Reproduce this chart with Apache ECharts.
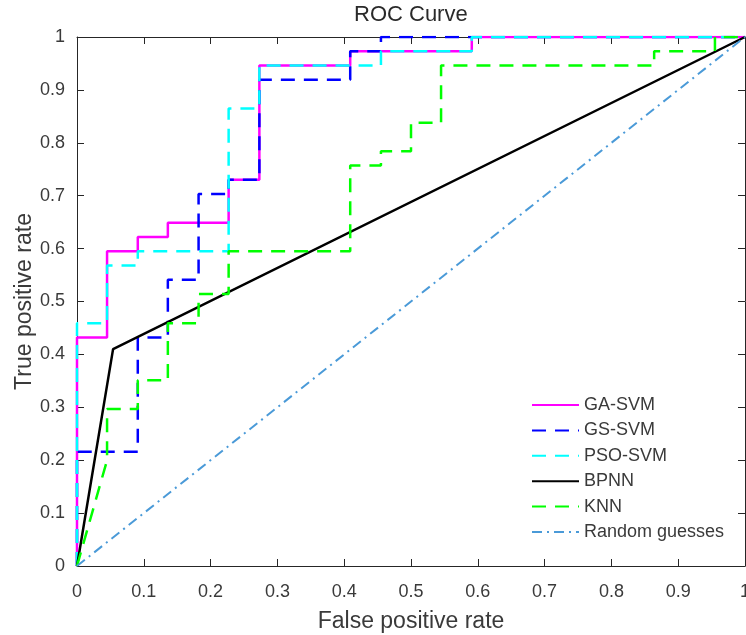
<!DOCTYPE html>
<html>
<head>
<meta charset="utf-8">
<script src="https://cdn.jsdelivr.net/npm/echarts@6/dist/echarts.min.js"></script>
<style>html,body{margin:0;padding:0;background:#fff}#c{width:746px;height:635px}</style>
</head>
<body>
<div id="c"></div>
<script>
// ---- data ----
const seriesNames = ['GA-SVM', 'GS-SVM', 'PSO-SVM', 'BPNN', 'KNN', 'Random guesses'];

const gaX = [0, 0, 0.045, 0.045, 0.091, 0.091, 0.136, 0.136, 0.227, 0.227, 0.273, 0.273, 0.409, 0.409, 0.591, 0.591, 1];
const gaY = [0, 0.432, 0.432, 0.595, 0.595, 0.622, 0.622, 0.649, 0.649, 0.730, 0.730, 0.946, 0.946, 0.973, 0.973, 1, 1];

const gsX = [0, 0, 0.091, 0.091, 0.136, 0.136, 0.182, 0.182, 0.227, 0.227, 0.273, 0.273, 0.409, 0.409, 0.455, 0.455, 1];
const gsY = [0, 0.216, 0.216, 0.432, 0.432, 0.541, 0.541, 0.703, 0.703, 0.730, 0.730, 0.919, 0.919, 0.973, 0.973, 1, 1];

const psoX = [0, 0, 0.045, 0.045, 0.091, 0.091, 0.227, 0.227, 0.273, 0.273, 0.455, 0.455, 0.591, 0.591, 1];
const psoY = [0, 0.459, 0.459, 0.568, 0.568, 0.595, 0.595, 0.865, 0.865, 0.946, 0.946, 0.973, 0.973, 1, 1];

const bpX = [0, 0.054, 1];
const bpY = [0, 0.41, 1];

const knnX = [0, 0.045, 0.045, 0.091, 0.091, 0.136, 0.136, 0.182, 0.182, 0.227, 0.227, 0.409, 0.409, 0.455, 0.455, 0.5, 0.5, 0.545, 0.545, 0.864, 0.864, 0.955, 0.955, 1];
const knnY = [0, 0.2, 0.297, 0.297, 0.351, 0.351, 0.459, 0.459, 0.514, 0.514, 0.595, 0.595, 0.757, 0.757, 0.784, 0.784, 0.838, 0.838, 0.946, 0.946, 0.973, 0.973, 1, 1];

const rndX = [0, 1];
const rndY = [0, 1];

const tickLabels = ['0', '0.1', '0.2', '0.3', '0.4', '0.5', '0.6', '0.7', '0.8', '0.9', '1'];

// ---- chart ----
const zip = (xs, ys) => xs.map((x, i) => [x, ys[i]]);
const FONT = '"Liberation Sans", Arial, sans-serif';
const AX = '#262626';
const TXT = '#3a3a3a';
const fmt = v => tickLabels[Math.round(v * 10)];

function axisBase(extra) {
  return Object.assign({
    type: 'value', min: 0, max: 1, interval: 0.1,
    splitLine: { show: false },
    axisLine: { show: true, onZero: false, lineStyle: { color: AX, width: 1 } },
    axisTick: { show: true, inside: true, length: 7, lineStyle: { color: AX } },
    axisLabel: { show: true, formatter: fmt, fontFamily: FONT, fontSize: 18, color: TXT, margin: 12 }
  }, extra);
}

const specs = [
  { name: seriesNames[0], xs: gaX, ys: gaY, color: '#ff00ff', type: 'solid', width: 2.5 },
  { name: seriesNames[1], xs: gsX, ys: gsY, color: '#0000ff', type: [14, 9], width: 2.5 },
  { name: seriesNames[2], xs: psoX, ys: psoY, color: '#00ffff', type: [14, 9], width: 2.5 },
  { name: seriesNames[3], xs: bpX, ys: bpY, color: '#000000', type: 'solid', width: 2.5 },
  { name: seriesNames[4], xs: knnX, ys: knnY, color: '#00ff00', type: [14, 9], width: 2.5 },
  { name: seriesNames[5], xs: rndX, ys: rndY, color: '#4a9ad8', type: [10, 5, 2, 5], width: 2 }
];

const option = {
  animation: false,
  backgroundColor: '#ffffff',
  title: {
    text: 'ROC Curve', left: 354, top: 4, padding: 0,
    textStyle: { fontFamily: FONT, fontSize: 22, fontWeight: 'normal', color: '#2a2a2a' }
  },
  grid: { left: 77, right: 1, top: 37, bottom: 69, containLabel: false, outerBoundsMode: 'none' },
  legend: {
    orient: 'vertical', left: 531, top: 396, padding: 0,
    itemWidth: 47, itemHeight: 14, itemGap: 7.4,
    itemStyle: { opacity: 0 },
    textStyle: { fontFamily: FONT, fontSize: 18, color: TXT },
    data: seriesNames
  },
  xAxis: [
    axisBase({ position: 'bottom', name: 'False positive rate', nameLocation: 'middle', nameGap: 44,
      axisLabel: { show: true, formatter: fmt, fontFamily: FONT, fontSize: 18, color: TXT, margin: 17 },
      nameTextStyle: { fontFamily: FONT, fontSize: 23, color: TXT } }),
    axisBase({ position: 'top', axisLabel: { show: false } })
  ],
  yAxis: [
    axisBase({ position: 'left', name: 'True positive rate', nameLocation: 'middle', nameGap: 41,
      nameMoveOverlap: false,
      nameTextStyle: { fontFamily: FONT, fontSize: 23, color: TXT } }),
    axisBase({ position: 'right', axisLabel: { show: false } })
  ],
  series: specs.map(s => ({
    name: s.name, type: 'line', xAxisIndex: 0, yAxisIndex: 0,
    data: zip(s.xs, s.ys), showSymbol: false, symbol: 'none',
    color: s.color,
    lineStyle: { color: s.color, width: s.width, type: s.type, cap: 'butt' },
    itemStyle: { color: s.color }
  }))
};

const chart = echarts.init(document.getElementById('c'), null, { renderer: 'canvas' });
chart.setOption(option);
</script>
</body>
</html>
